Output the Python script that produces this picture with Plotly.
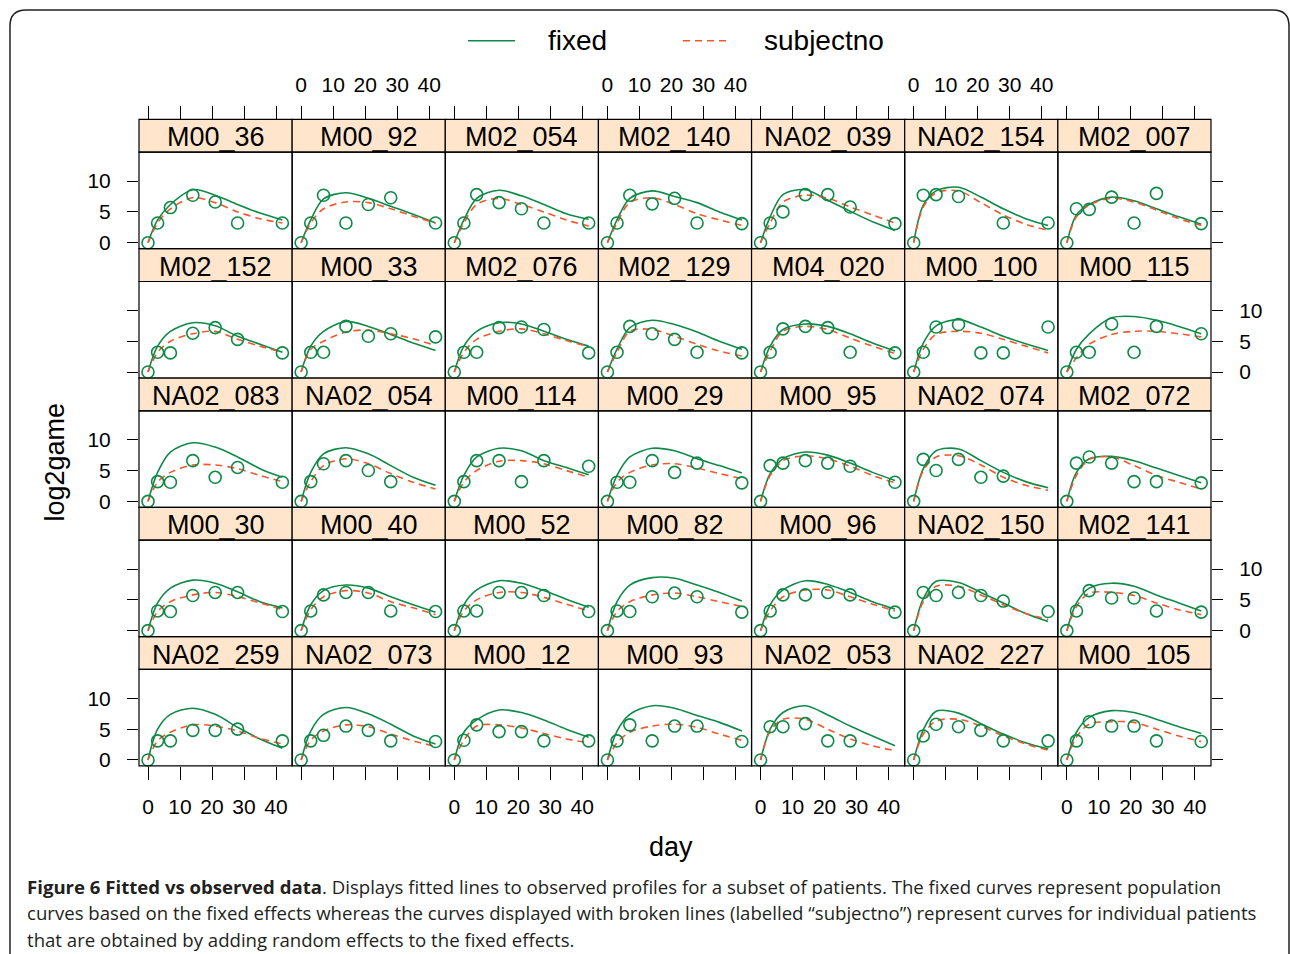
import plotly.graph_objects as go

W, H = 1290, 954

# ---------------- data ----------------
subjects = [
    "M00_36", "M00_92", "M02_054", "M02_140", "NA02_039", "NA02_154", "M02_007",
    "M02_152", "M00_33", "M02_076", "M02_129", "M04_020", "M00_100", "M00_115",
    "NA02_083", "NA02_054", "M00_114", "M00_29", "M00_95", "NA02_074", "M02_072",
    "M00_30", "M00_40", "M00_52", "M00_82", "M00_96", "NA02_150", "M02_141",
    "NA02_259", "NA02_073", "M00_12", "M00_93", "NA02_053", "NA02_227", "M00_105",
]

obs_days = [0, 3, 7, 14, 21, 28, 42]
obs_values = [
    [0, 3.2, 5.7, 7.7, 6.6, 3.2, 3.2],
    [0, 3.2, 7.7, 3.2, 6.2, 7.3, 3.2],
    [0, 3.2, 7.8, 6.5, 5.5, 3.2, 3.2],
    [0, 3.2, 7.7, 6.3, 7.2, 3.2, 3.1],
    [0, 3.2, 5.0, 7.8, 7.8, 5.8, 3.1],
    [0, 7.7, 7.8, 7.5, None, 3.2, 3.2],
    [0, 5.5, 5.4, 7.4, 3.2, 8.0, 3.1],
    [0, 3.2, 3.1, 6.3, 7.2, 5.3, 3.1],
    [0, 3.2, 3.2, 7.4, 5.8, 6.2, 5.7],
    [0, 3.2, 3.2, 7.2, 7.3, 6.9, 3.1],
    [0, 3.2, 7.4, 6.2, 5.3, 3.2, 3.1],
    [0, 3.2, 7.0, 7.4, 7.2, 3.2, 3.1],
    [0, 3.2, 7.3, 7.7, 3.1, 3.1, 7.3],
    [0, 3.2, 3.2, 7.8, 3.2, 7.4, 6.2],
    [0, 3.2, 3.1, 6.6, 3.9, 5.5, 3.1],
    [0, 3.2, 6.1, 6.6, 5.0, 3.2, None],
    [0, 3.2, 6.6, 6.6, 3.2, 6.6, 5.7],
    [0, 3.1, 3.1, 6.6, 4.7, 6.2, 3.0],
    [0, 5.8, 6.2, 6.6, 6.2, 5.7, 3.1],
    [0, 6.8, 5.0, 6.8, 3.9, 4.1, None],
    [0, 6.2, 7.2, 6.2, 3.2, 3.2, 3.0],
    [0, 3.2, 3.1, 5.7, 6.2, 6.2, 3.1],
    [0, 3.2, 5.8, 6.2, 6.2, 3.2, 3.1],
    [0, 3.2, 3.2, 6.2, 6.2, 5.7, 3.1],
    [0, 3.2, 3.1, 5.5, 6.1, 5.5, 3.0],
    [0, 3.2, 5.8, 5.8, 6.2, 5.8, 3.0],
    [0, 6.2, 5.7, 6.2, 5.7, 4.8, 3.1],
    [0, 3.2, 6.5, 5.3, 5.3, 3.2, 3.0],
    [0, 3.1, 3.1, 4.8, 4.8, 5.0, 3.1],
    [0, 3.1, 4.0, 5.5, 4.8, 3.1, 3.0],
    [0, 3.2, 5.7, 4.6, 4.6, 3.1, 3.1],
    [0, 3.1, 5.7, 3.1, 5.5, 5.5, 3.0],
    [0, 5.4, 5.4, 5.9, 3.1, 3.1, None],
    [0, 3.9, 5.8, 5.4, 4.8, 3.1, 3.1],
    [0, 3.1, 6.2, 5.5, 5.5, 3.1, 3.0],
]

curve_days = [0, 3, 7, 14, 21, 28, 35, 42]
fixed_curves = [
    [0, 3.7, 6.2, 8.6, 7.7, 6.2, 4.8, 3.7],
    [0, 3.7, 7.1, 8.1, 7.2, 5.9, 4.6, 3.2],
    [0, 3.7, 7.2, 8.5, 7.6, 6.2, 4.7, 3.8],
    [0, 3.7, 7.2, 8.4, 7.5, 6.5, 5.0, 3.7],
    [0, 4.2, 7.8, 8.6, 6.9, 5.1, 3.4, 2.0],
    [0, 6.1, 8.4, 9.0, 7.4, 5.5, 3.9, 2.8],
    [0, 4.5, 6.2, 7.4, 6.8, 5.5, 4.2, 3.0],
    [0, 4.2, 6.6, 8.0, 7.5, 5.8, 4.5, 3.2],
    [0, 4.2, 6.6, 8.2, 7.4, 6.1, 4.7, 3.5],
    [0, 4.2, 6.6, 8.0, 7.8, 6.6, 5.3, 4.2],
    [0, 3.7, 7.2, 8.4, 7.7, 6.5, 5.0, 3.7],
    [0, 4.2, 6.9, 7.8, 7.4, 6.2, 4.7, 3.4],
    [0, 4.7, 7.5, 8.5, 7.3, 5.8, 4.6, 3.5],
    [0, 3.7, 6.2, 8.8, 9.0, 8.4, 7.4, 6.2],
    [0, 4.7, 8.0, 9.5, 8.8, 7.2, 5.3, 3.9],
    [0, 4.7, 7.7, 8.7, 7.7, 5.8, 3.9, 2.6],
    [0, 4.2, 7.2, 8.6, 8.2, 6.6, 5.5, 4.3],
    [0, 4.2, 7.2, 8.6, 8.2, 6.9, 5.8, 4.6],
    [0, 4.5, 6.9, 8.0, 7.5, 6.2, 4.7, 3.4],
    [0, 5.3, 8.2, 8.5, 6.6, 4.7, 3.2, 2.2],
    [0, 4.7, 6.9, 7.3, 6.6, 5.4, 4.2, 3.0],
    [0, 4.5, 6.9, 8.2, 7.7, 6.3, 4.7, 3.7],
    [0, 4.2, 6.5, 7.4, 6.9, 5.5, 4.2, 3.0],
    [0, 4.2, 6.6, 8.1, 7.7, 6.5, 5.1, 3.8],
    [0, 4.7, 7.4, 8.6, 8.5, 7.4, 6.2, 4.8],
    [0, 4.2, 6.6, 8.1, 7.5, 6.2, 4.7, 3.5],
    [0, 5.2, 8.0, 7.8, 6.2, 4.5, 2.8, 1.5],
    [0, 4.5, 6.9, 7.7, 7.2, 5.8, 4.5, 3.2],
    [0, 5.0, 7.4, 8.4, 7.4, 5.3, 3.4, 1.9],
    [0, 4.7, 7.4, 8.5, 7.5, 5.8, 3.9, 2.6],
    [0, 4.5, 6.5, 8.1, 7.7, 6.5, 5.0, 3.7],
    [0, 4.7, 7.4, 8.8, 8.4, 7.2, 6.1, 4.7],
    [0, 5.0, 7.7, 8.8, 7.3, 5.5, 3.9, 2.3],
    [0, 4.9, 7.9, 7.6, 5.9, 4.2, 2.8, 1.8],
    [0, 4.5, 6.9, 8.0, 7.7, 6.6, 5.4, 4.3],
]
subject_curves = [
    [0, 3.2, 5.5, 7.3, 6.5, 5.0, 3.9, 3.2],
    [0, 3.2, 5.5, 6.6, 6.5, 5.5, 4.3, 3.2],
    [0, 3.2, 6.2, 7.2, 6.2, 5.0, 3.7, 2.7],
    [0, 3.2, 6.5, 7.3, 6.2, 4.7, 3.7, 2.8],
    [0, 3.2, 6.6, 7.7, 7.2, 5.8, 4.5, 3.2],
    [0, 5.8, 8.1, 8.4, 6.5, 4.5, 3.0, 2.0],
    [0, 4.2, 6.1, 7.2, 6.6, 5.3, 3.9, 2.8],
    [0, 3.2, 5.0, 6.2, 6.6, 5.3, 4.2, 3.2],
    [0, 3.7, 5.0, 6.5, 6.8, 6.2, 5.4, 4.3],
    [0, 3.2, 5.3, 6.6, 7.0, 6.2, 5.1, 4.1],
    [0, 3.2, 6.6, 6.9, 5.8, 4.5, 3.4, 2.6],
    [0, 3.4, 6.6, 7.4, 6.9, 5.5, 4.2, 3.0],
    [0, 3.7, 6.1, 6.6, 6.3, 5.3, 4.2, 3.1],
    [0, 2.3, 4.5, 6.1, 6.6, 6.6, 6.2, 5.7],
    [0, 3.1, 4.7, 5.9, 5.9, 5.3, 4.2, 3.2],
    [0, 3.2, 5.8, 6.9, 6.1, 4.5, 3.1, 2.0],
    [0, 3.1, 5.0, 6.5, 6.6, 6.1, 5.0, 3.9],
    [0, 3.1, 4.7, 5.9, 6.1, 5.4, 4.5, 3.7],
    [0, 4.2, 6.6, 7.4, 6.9, 5.7, 4.2, 3.0],
    [0, 5.0, 7.2, 7.4, 5.9, 3.9, 2.6, 1.8],
    [0, 4.2, 6.8, 7.2, 5.8, 4.2, 3.1, 2.0],
    [0, 3.1, 4.7, 5.8, 6.2, 5.5, 4.5, 3.4],
    [0, 3.4, 5.5, 6.5, 6.1, 4.7, 3.7, 2.6],
    [0, 3.2, 5.0, 6.2, 6.2, 5.4, 4.3, 3.2],
    [0, 3.1, 4.7, 5.8, 6.1, 5.5, 4.7, 3.9],
    [0, 3.2, 5.5, 6.6, 6.6, 5.5, 4.3, 3.2],
    [0, 4.7, 7.2, 7.2, 5.8, 4.2, 2.8, 1.8],
    [0, 3.9, 6.1, 6.2, 5.7, 4.5, 3.4, 2.6],
    [0, 3.1, 4.5, 5.7, 5.5, 4.7, 3.5, 2.6],
    [0, 3.2, 4.7, 5.7, 5.4, 4.2, 3.1, 2.2],
    [0, 3.2, 5.5, 5.7, 5.2, 4.3, 3.4, 2.8],
    [0, 2.8, 4.5, 5.5, 5.8, 5.3, 4.2, 3.2],
    [0, 4.7, 6.6, 6.6, 5.0, 3.4, 2.3, 1.5],
    [0, 4.2, 6.3, 6.6, 5.5, 3.9, 2.6, 1.6],
    [0, 3.7, 5.8, 6.2, 6.1, 5.0, 3.9, 3.0],
]

x_ticks = [0, 10, 20, 30, 40]
y_ticks = [0, 5, 10]
legend_labels = ["fixed", "subjectno"]

# ---------------- style / geometry ----------------
GREEN = "#0E8A48"
RED = "#F2582C"
STRIP = "#FFE5CC"
FONT = "Liberation Sans, Arial, Helvetica, sans-serif"

NCOL, NROW = 7, 5
PX0, PW = 139.0, 153.14
PY0, RH, SH, PH = 120.0, 130.0, 33.0, 97.0
XR = [-9 / 3.2, (PW - 9) / 3.2]
YR = [-6 / 6.2, (PH - 6) / 6.2]


def fx(px):
    return px / W


def fy(py):
    return 1 - py / H


fig = go.Figure()
layout = {}
shapes = []
annotations = []

for k, name in enumerate(subjects):
    r, c = divmod(k, NCOL)
    idx = k + 1
    xa = "x" if idx == 1 else f"x{idx}"
    ya = "y" if idx == 1 else f"y{idx}"
    xkey = "xaxis" if idx == 1 else f"xaxis{idx}"
    ykey = "yaxis" if idx == 1 else f"yaxis{idx}"

    x0 = PX0 + PW * c
    x1 = x0 + PW
    st = PY0 + RH * r
    sb = st + SH
    pb = sb + PH

    fig.add_trace(go.Scatter(
        x=curve_days, y=fixed_curves[k], mode="lines",
        line=dict(color=GREEN, width=1.6, shape="spline", smoothing=0.9),
        xaxis=xa, yaxis=ya, name=legend_labels[0], showlegend=False, hoverinfo="skip"))
    fig.add_trace(go.Scatter(
        x=curve_days, y=subject_curves[k], mode="lines",
        line=dict(color=RED, width=1.6, dash="7px,5px", shape="spline", smoothing=0.9),
        xaxis=xa, yaxis=ya, name=legend_labels[1], showlegend=False, hoverinfo="skip"))
    xs = [d for d, v in zip(obs_days, obs_values[k]) if v is not None]
    ys = [v for v in obs_values[k] if v is not None]
    fig.add_trace(go.Scatter(
        x=xs, y=ys, mode="markers",
        marker=dict(symbol="circle-open", size=12, color=GREEN, line=dict(width=1.6, color=GREEN)),
        xaxis=xa, yaxis=ya, showlegend=False, cliponaxis=False, name=name))

    xax = dict(domain=[fx(x0), fx(x1)], range=XR, showgrid=False, zeroline=False,
               showline=False, tickvals=x_ticks, ticks="", showticklabels=False,
               anchor=ya, tickfont=dict(family=FONT, size=21, color="black"),
               tickcolor="black", ticklen=13, tickwidth=1)
    if r == NROW - 1:
        xax.update(ticks="outside", side="bottom", showticklabels=(c % 2 == 0),
                   ticklabelstandoff=9)
    elif r == 0:
        xax.update(ticks="outside", side="top", anchor="free", position=fy(st),
                   showticklabels=(c % 2 == 1), ticklabelstandoff=6)
    layout[xkey] = xax

    yax = dict(domain=[fy(pb), fy(sb)], range=YR, showgrid=False, zeroline=False,
               showline=False, tickvals=y_ticks, ticks="", showticklabels=False,
               anchor=xa, tickfont=dict(family=FONT, size=21, color="black"),
               tickcolor="black", ticklen=11, tickwidth=1)
    if c == 0:
        yax.update(ticks="outside", side="left", showticklabels=(r % 2 == 0),
                   ticklabelstandoff=12)
    elif c == NCOL - 1:
        yax.update(ticks="outside", side="right", showticklabels=(r % 2 == 1),
                   ticklabelstandoff=12)
    layout[ykey] = yax

    # strip
    shapes.append(dict(type="rect", xref="paper", yref="paper",
                       x0=fx(x0), x1=fx(x1), y0=fy(sb), y1=fy(st),
                       fillcolor=STRIP, line=dict(color="black", width=1.2), layer="below"))
    # panel border
    shapes.append(dict(type="rect", xref="paper", yref="paper",
                       x0=fx(x0), x1=fx(x1), y0=fy(pb), y1=fy(sb),
                       fillcolor="rgba(0,0,0,0)", line=dict(color="black", width=1.2),
                       layer="above"))
    annotations.append(dict(text=name, xref="paper", yref="paper",
                            x=fx((x0 + x1) / 2), y=fy((st + sb) / 2 + 1.5),
                            xanchor="center", yanchor="middle", showarrow=False,
                            font=dict(family=FONT, size=27, color="black")))

# legend (key drawn at top, lattice style)
LEG_Y = 41
shapes.append(dict(type="line", xref="paper", yref="paper",
                   x0=fx(468), x1=fx(515), y0=fy(LEG_Y), y1=fy(LEG_Y),
                   line=dict(color=GREEN, width=1.6)))
shapes.append(dict(type="line", xref="paper", yref="paper",
                   x0=fx(683), x1=fx(730), y0=fy(LEG_Y), y1=fy(LEG_Y),
                   line=dict(color=RED, width=1.6, dash="7px,5px")))
for lx, lab in zip([546, 762], legend_labels):
    annotations.append(dict(text=lab, xref="paper", yref="paper", x=fx(lx), y=fy(LEG_Y),
                            xanchor="left", yanchor="middle", showarrow=False,
                            font=dict(family=FONT, size=28, color="black")))

# outer rounded frame
def P(px, py):
    return f"{fx(px):.5f},{fy(py):.5f}"

frame = (f"M {P(10, 1000)} L {P(10, 26)} Q {P(10, 10)} {P(26, 10)} "
         f"L {P(1273, 10)} Q {P(1289, 10)} {P(1289, 26)} L {P(1289, 1000)}")
shapes.append(dict(type="path", xref="paper", yref="paper", path=frame,
                   line=dict(color="#222222", width=1.5)))

# axis titles
annotations.append(dict(text="day", xref="paper", yref="paper", x=fx(671), y=fy(851),
                        xanchor="center", yanchor="middle", showarrow=False,
                        font=dict(family=FONT, size=27, color="black")))
annotations.append(dict(text="log2game", xref="paper", yref="paper", x=fx(55), y=fy(465),
                        xanchor="center", yanchor="middle", showarrow=False, textangle=-90,
                        font=dict(family=FONT, size=27, color="black")))

# caption
CAP = "Open Sans, Noto Sans, sans-serif"
cap_lines = [
    "<b>Figure 6 Fitted vs observed data</b>. Displays fitted lines to observed profiles for a subset of patients. The fixed curves represent population",
    "curves based on the fixed effects whereas the curves displayed with broken lines (labelled \u201csubjectno\u201d) represent curves for individual patients",
    "that are obtained by adding random effects to the fixed effects.",
]
for i, t in enumerate(cap_lines):
    annotations.append(dict(text=t, xref="paper", yref="paper", x=fx(25), y=fy(891 + 26.5 * i),
                            xanchor="left", yanchor="middle", showarrow=False,
                            font=dict(family=CAP, size=18.6, color="#231F20")))

fig.update_layout(
    width=W, height=H, margin=dict(l=0, r=0, t=0, b=0),
    paper_bgcolor="white", plot_bgcolor="white",
    showlegend=False,
    shapes=shapes, annotations=annotations,
    **layout,
)

fig.write_html("out.html", config={"displayModeBar": False},
               post_script="document.body.style.margin='0';")
